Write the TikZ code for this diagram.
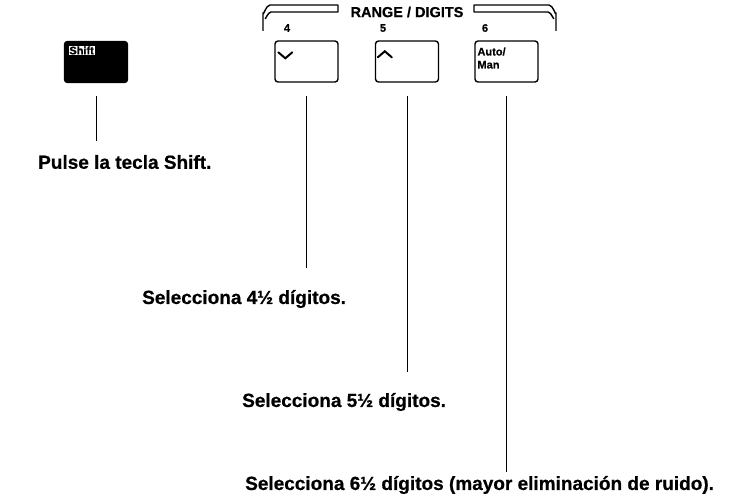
\documentclass[tikz,border=0pt]{standalone}
\usepackage{fontspec}
\setmainfont{Liberation Sans}[BoldFeatures={FakeBold=0.6}]
\begin{document}
\begin{tikzpicture}[x=1pt,y=-1pt,
  keybox/.style={draw,line width=1.4pt,rounded corners=3pt,minimum width=63pt,minimum height=41pt,inner sep=0pt},
  lead/.style={line width=1pt},
  caption/.style={font=\fontsize{19}{22}\selectfont\bfseries,anchor=west,inner sep=0pt},
  klabel/.style={font=\fontsize{11}{11}\selectfont\bfseries,inner sep=0pt,align=left},
  chev/.style={line width=2pt,line cap=round,line join=miter},
  brk/.style={line width=1.4pt,line join=round}]
\useasboundingbox (0,0) rectangle (730,503);

% bracket and range label
\node[font=\fontsize{14.5}{16}\selectfont\bfseries,inner sep=0pt] (range) at (407,12) {RANGE / DIGITS};
\draw[brk] (263,31) -- (263,13) to[out=-90,in=180] (270,5) -- (338,5) -- (338,12) -- (271,12) to[out=180,in=-90] (265,18);
\draw[brk] (556,31) -- (556,13) to[out=-90,in=0] (549,5) -- (474,5) -- (474,12) -- (548,12) to[out=0,in=-90] (554,18);
\node[klabel] (d4) at (287,28) {4};
\node[klabel] (d5) at (383,28) {5};
\node[klabel] (d6) at (485,28) {6};

% keys
\node[keybox,fill=black] (keyshift) at (96,62) {};
\node[fill=white,draw=black,line width=0.8pt,inner sep=1.2pt,font=\fontsize{11}{11}\selectfont\bfseries,anchor=north west] (lshift) at ([xshift=4pt,yshift=-4pt]keyshift.north west) {Shift};
\node[keybox] (keydown) at (306.5,61.5) {};
\node[keybox] (keyup) at (407,61.5) {};
\node[keybox] (keyauto) at (506.5,61.5) {};
\coordinate (cd) at ([xshift=11pt,yshift=-18pt]keydown.north west);
\coordinate (cu) at ([xshift=10pt,yshift=-11pt]keyup.north west);
\draw[chev] ([xshift=-7pt,yshift=6pt]cd) -- (cd) -- ([xshift=7pt,yshift=6pt]cd);
\draw[chev] ([xshift=-7pt,yshift=-6pt]cu) -- (cu) -- ([xshift=7pt,yshift=-6pt]cu);
\node[klabel,anchor=north west] (lauto) at ([xshift=3pt,yshift=-7pt]keyauto.north west) {Auto/\\[2pt]Man};

% captions
\node[caption] (tshift) at (38,162) {Pulse la tecla Shift.};
\node[caption] (t4) at (142,299) {Selecciona 4½ dígitos.};
\node[caption] (t5) at (242,402) {Selecciona 5½ dígitos.};
\node[caption] (t6) at (245,485) {Selecciona 6½ dígitos (mayor eliminación de ruido).};

% leader lines
\coordinate (eshift) at (96,141);
\coordinate (e4) at (306.5,268);
\coordinate (e5) at (407,372);
\coordinate (e6) at (506.5,472);
\draw[lead] ([yshift=-13pt]keyshift.south) -- (eshift);
\draw[lead] ([yshift=-13pt]keydown.south) -- (e4);
\draw[lead] ([yshift=-13pt]keyup.south) -- (e5);
\draw[lead] ([yshift=-13pt]keyauto.south) -- (e6);
\end{tikzpicture}
\end{document}
